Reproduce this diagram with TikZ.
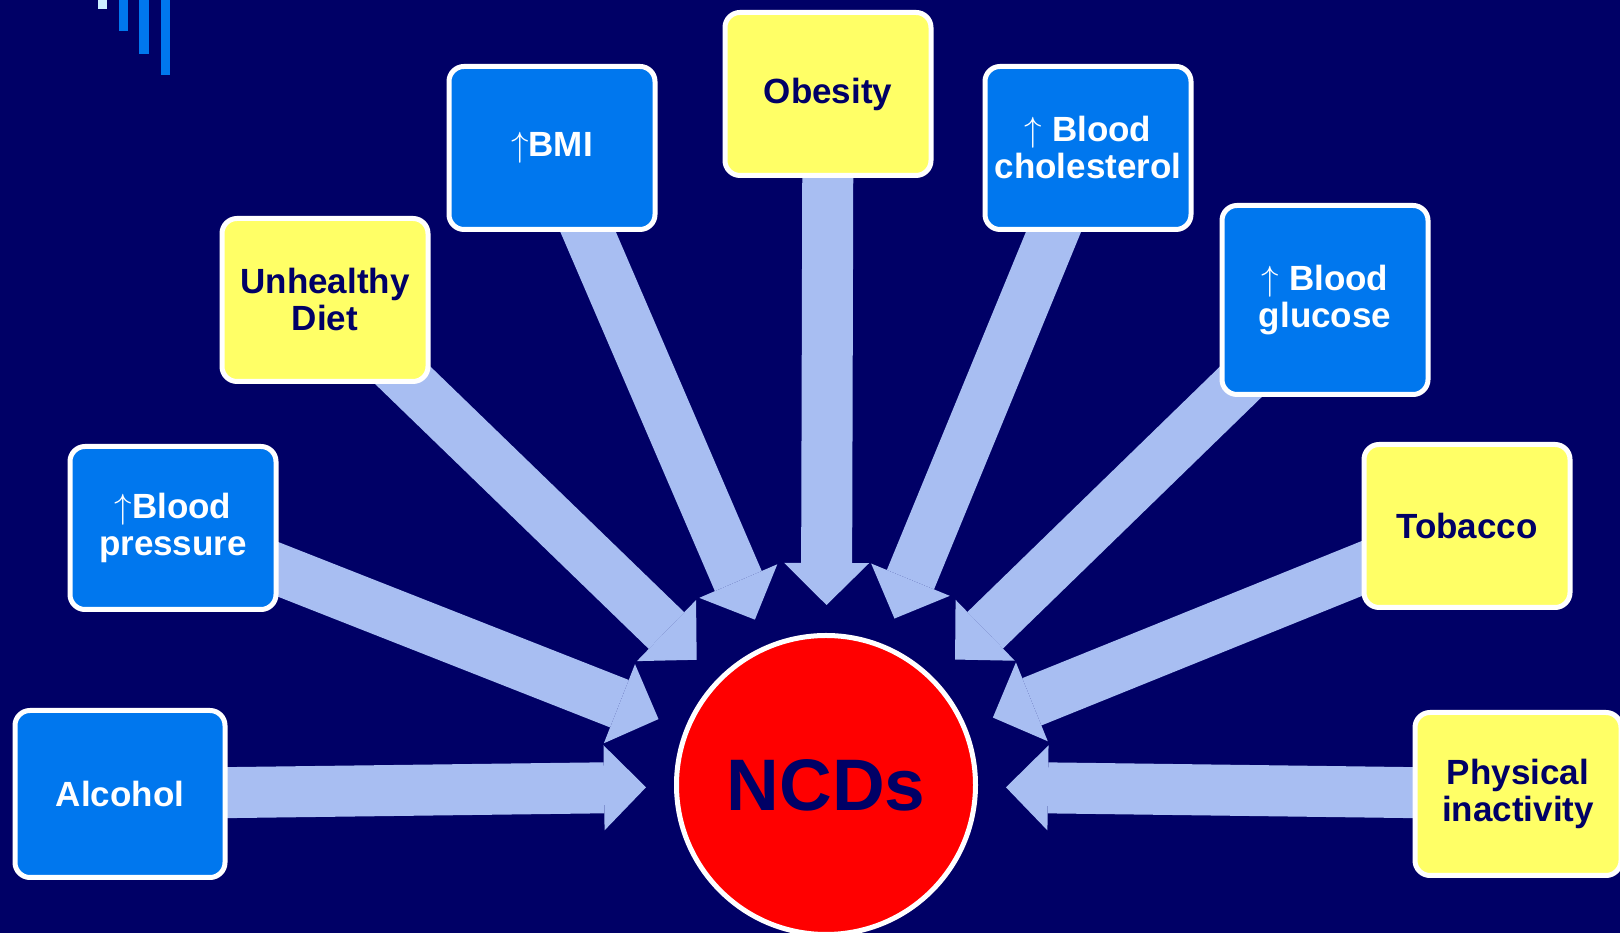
\RequirePackage{fix-cm}
\documentclass[tikz,border=0pt]{standalone}
\usepackage{fontspec}
\setmainfont{Liberation Sans}
\usepackage{tikz}
\usetikzlibrary{arrows.meta}
\definecolor{navy}{HTML}{000066}
\definecolor{boxblue}{HTML}{0077EE}
\definecolor{boxyellow}{HTML}{FFFF66}
\definecolor{arrowblue}{HTML}{A8BEF2}
\definecolor{barlight}{HTML}{CCEEFF}
\pgfdeclarelayer{back}
\pgfsetlayers{back,main}
\newcommand{\incr}{$\uparrow$}

\begin{document}
\begin{tikzpicture}[x=1pt,y=1pt]

\tikzstyle{every node}=[font=\bfseries\fontsize{35}{37}\selectfont]
\tikzstyle{factor}=[draw=white, line width=5pt, rounded corners=15pt, minimum width=206pt, minimum height=163pt, align=center, inner sep=0pt]
\tikzstyle{blue factor}=[factor, fill=boxblue, text=white]
\tikzstyle{yellow factor}=[factor, fill=boxyellow, text=navy]
\tikzstyle{fat}=[arrowblue, line width=51pt, -{Triangle[length=42pt,width=85pt,line width=0pt]}, shorten >=180pt]

\useasboundingbox (0,0) rectangle (1620,933);

% bars in the corner
\fill[barlight] (98,924) rectangle (107,933);
\fill[boxblue] (119,902) rectangle (128,933);
\fill[boxblue] (139,879) rectangle (149,933);
\fill[boxblue] (161,858) rectangle (170,933);

% centre
\node [circle, draw=white, line width=5pt, fill=red, text=navy, minimum size=299pt, inner sep=0pt,
  font=\bfseries\fontsize{73}{73}\selectfont] (ncd) at (826,148) {NCDs};

% risk factors, left to right
\node [blue factor, minimum width=210pt, minimum height=167pt] (alc) at (120,139) {Alcohol};
\node [blue factor] (bp) at (173,405) {\incr Blood\\pressure};
\node [yellow factor] (diet) at (325,633) {Unhealthy\\Diet};
\node [blue factor] (bmi) at (552,785) {\incr BMI};
\node [yellow factor] (obe) at (828,839) {Obesity};
\node [blue factor] (chol) at (1088,785) {\incr\ Blood\\cholesterol};
\node [blue factor, minimum height=189pt] (glu) at (1325,633) {\incr\ Blood\\glucose};
\node [yellow factor] (tob) at (1467,407) {Tobacco};
\node [yellow factor] (phy) at (1518,139) {Physical\\inactivity};

% arrows go under the boxes
\begin{pgfonlayer}{back}
\fill[navy] (0,0) rectangle (1620,933);
\foreach \f in {alc,bp,diet,bmi,obe,chol,glu,tob,phy}
  \draw[fat] (\f.center) -- (ncd.center);
\end{pgfonlayer}

\end{tikzpicture}
\end{document}
